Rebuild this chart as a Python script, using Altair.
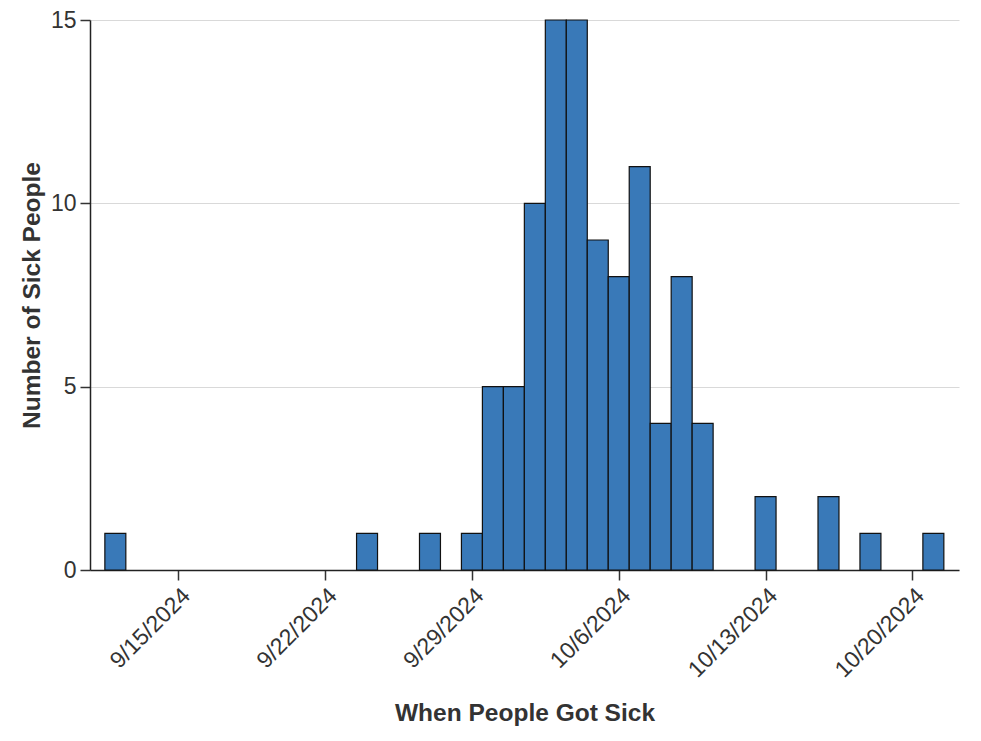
import altair as alt
import pandas as pd

dates = ["2024-09-12", "2024-09-24", "2024-09-27", "2024-09-29", "2024-09-30",
         "2024-10-01", "2024-10-02", "2024-10-03", "2024-10-04", "2024-10-05",
         "2024-10-06", "2024-10-07", "2024-10-08", "2024-10-09", "2024-10-10",
         "2024-10-13", "2024-10-16", "2024-10-18", "2024-10-21"]
counts = [1, 1, 1, 1, 5, 5, 10, 15, 15, 9, 8, 11, 4, 8, 4, 2, 2, 1, 1]
tick_dates = ["2024-09-15", "2024-09-22", "2024-09-29", "2024-10-06", "2024-10-13", "2024-10-20"]
y_ticks = [0, 5, 10, 15]

d = pd.to_datetime(dates)
df = pd.DataFrame({
    "start": (d - pd.Timedelta(hours=12)).strftime("%Y-%m-%dT%H:%M:%S"),
    "end": (d + pd.Timedelta(hours=12)).strftime("%Y-%m-%dT%H:%M:%S"),
    "count": counts,
})

def dt(s, h=0, m=0):
    t = pd.Timestamp(s)
    return alt.DateTime(year=t.year, month=t.month, date=t.day, hours=h, minutes=m)

x_domain = [dt("2024-09-10", 19, 0), dt("2024-10-22", 5, 20)]

FONT = "Liberation Sans"

chart = alt.Chart(df).mark_bar(
    color="#3979b8", stroke="#111111", strokeWidth=1.2
).encode(
    x=alt.X("start:T",
            scale=alt.Scale(domain=x_domain),
            axis=alt.Axis(title="When People Got Sick",
                          values=[dt(s) for s in tick_dates],
                          format="%-m/%-d/%Y", formatType="time",
                          labelAngle=-45, grid=False)),
    x2="end:T",
    y=alt.Y("count:Q",
            scale=alt.Scale(domain=[0, 15], nice=False),
            axis=alt.Axis(title="Number of Sick People", values=y_ticks, grid=True)),
    y2=alt.datum(0),
).properties(
    width=869, height=550,
    autosize=alt.AutoSizeParams(type="none"),
    padding={"left": 90, "top": 20, "right": 22, "bottom": 171},
).configure_view(
    stroke=None
).configure_axis(
    labelFont=FONT, titleFont=FONT,
    labelFontSize=23, titleFontSize=24.5,
    labelColor="#333333", titleColor="#333333",
    domainColor="#222222", domainWidth=1.5,
    tickColor="#333333", tickSize=10, tickWidth=1.5,
    gridColor="#d9d9d9", gridWidth=1,
    labelPadding=4,
).configure_axisY(
    titlePadding=6,
).configure_axisX(
    titlePadding=20,
)

chart.save("out.html", embed_options={"renderer": "svg", "actions": False})
